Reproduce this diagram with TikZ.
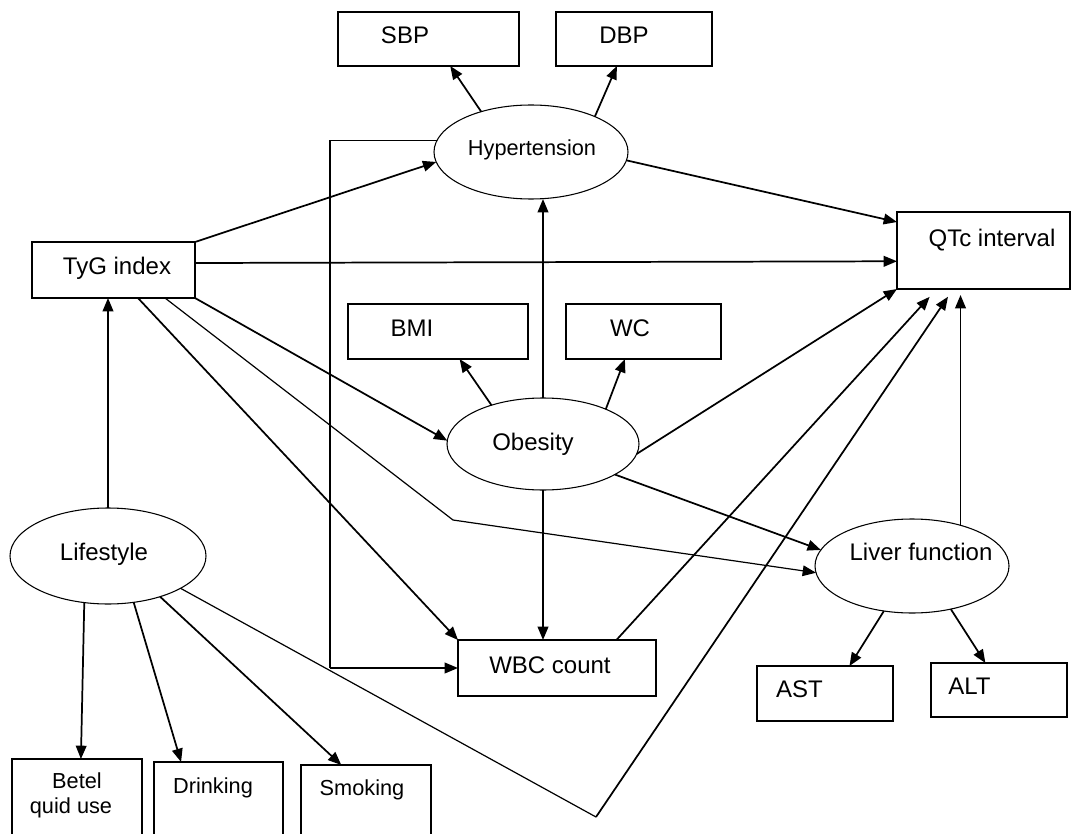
\documentclass[tikz,border=0pt]{standalone}
\usepackage{fontspec}
\setmainfont{Liberation Sans}
\usetikzlibrary{shapes.geometric,arrows.meta,calc}
\begin{document}
\begin{tikzpicture}[x=0.75pt,y=-0.75pt,
  bx/.style 2 args={draw,rectangle,line width=1pt,minimum width=#1*0.75pt,minimum height=#2*0.75pt,inner sep=0pt,outer sep=0pt},
  ell/.style 2 args={draw,ellipse,line width=0.8pt,minimum width=#1*0.75pt,minimum height=#2*0.75pt,inner sep=0pt,outer sep=0pt},
  txt/.style={inner sep=0pt,font=\fontsize{18}{21}\selectfont,text height=12.9pt,text depth=0pt},
  txts/.style={inner sep=0pt,font=\fontsize{16.3}{19.5}\selectfont,text height=11.7pt,text depth=0pt},
  arr/.style={line width=1.3pt,-{Triangle[length=10pt,width=8pt]}},
  thinln/.style={line width=0.9pt}]
\fill[white] (0,0) rectangle (1073,834);
\clip (0,0) rectangle (1073,834);
% boxes
\node[bx={181}{54}] (sbp) at (428.5,39) {};
\node[txt] at (405,35) {SBP};
\node[bx={156}{54}] (dbp) at (634,39) {};
\node[txt] at (624,35) {DBP};
\node[bx={163}{56}] (tyg) at (113.5,270) {};
\node[txt] at (117,266) {TyG index};
\node[bx={173}{77}] (qtc) at (983.5,250.5) {};
\node[txt] at (992,238) {QTc interval};
\node[bx={180}{55}] (bmi) at (438,331.5) {};
\node[txt] at (412,328) {BMI};
\node[bx={155}{55}] (wc) at (643.5,331.5) {};
\node[txt] at (630,328) {WC};
\node[bx={198}{56}] (wbc) at (557,668) {};
\node[txt] at (550,665) {WBC count};
\node[bx={136}{55}] (ast) at (825,693.5) {};
\node[txt] at (799.5,689) {AST};
\node[bx={136}{54}] (alt) at (999,690) {};
\node[txt] at (969.5,686) {ALT};
\node[bx={130}{111}] (bet) at (77,814.5) {};
\node[txts] at (77,781) {Betel};
\node[txts] at (71,806) {quid use};
\node[bx={129}{108}] (dri) at (218.5,816) {};
\node[txts] at (213,786) {Drinking};
\node[bx={130}{105}] (smo) at (366,817.5) {};
\node[txts] at (362,788) {Smoking};
% ellipses
\node[ell={194}{94}] (hyp) at (531,152) {};
\node[txts] at (532,147.5) {Hypertension};
\node[ell={192}{92}] (obe) at (543,444) {};
\node[txt] at (533,442) {Obesity};
\node[ell={196}{96}] (lif) at (108,556) {};
\node[txt] at (104,552) {Lifestyle};
\node[ell={194}{94}] (liv) at (912,566) {};
\node[txt] at (921,552) {Liver function};
% helper coordinates
\coordinate (bk) at (330,668);
\coordinate (bend) at (453,520);
\coordinate (vv) at (596,817);
% connectors
\draw[arr] (hyp.141) -- ($(sbp.south west)!0.62!(sbp.south east)$);
\draw[arr] (hyp.29) -- ($(dbp.south west)!0.39!(dbp.south east)$);
\draw[thinln] (hyp.173) -| (bk);
\draw[arr] (bk) -- (wbc.west);
\draw[arr] (tyg.north east) -- (hyp.186);
\draw[arr] ($(tyg.north east)!0.375!(tyg.south east)$) -- ($(qtc.north west)!0.64!(qtc.south west)$);
\draw[arr] (tyg.south east) -- (obe.178);
\draw[thinln,-{Triangle[length=10pt,width=8pt]}] ($(tyg.south west)!0.816!(tyg.south east)$) -- (bend) -- (liv.184);
\draw[arr] ($(tyg.south west)!0.65!(tyg.south east)$) -- (wbc.north west);
\draw[arr] (hyp.-5) -- ($(qtc.north west)!0.13!(qtc.south west)$);
\draw[arr] (obe.north) -- (obe.north |- hyp.south);
\draw[arr] (obe.143) -- ($(bmi.south west)!0.62!(bmi.south east)$);
\draw[arr] (obe.29) -- ($(wc.south west)!0.38!(wc.south east)$);
\draw[arr] (obe.-6) -- (qtc.south west);
\draw[arr] (obe.-23) -- (liv.170);
\draw[arr] (obe.south) -- (obe.south |- wbc.north);
\draw[arr,shorten >=4.5pt] (liv.40) -- (liv.40 |- qtc.south);
\draw[arr] (liv.-122) -- ($(ast.north west)!0.68!(ast.north east)$);
\draw[arr] (liv.-48) -- ($(alt.north west)!0.40!(alt.north east)$);
\draw[arr,shorten >=8pt] ($(wbc.north west)!0.8!(wbc.north east)$) -- ($(qtc.south west)!0.23!(qtc.south east)$);
\draw[arr] (lif.north) -- (lif.north |- tyg.south);
\draw[arr] (lif.-117) -- ($(bet.north west)!0.53!(bet.north east)$);
\draw[arr] (lif.-61) -- ($(dri.north west)!0.21!(dri.north east)$);
\draw[arr] (lif.-38) -- ($(smo.north west)!0.31!(smo.north east)$);
\draw[thinln] (lif.-24) -- (vv);
\draw[arr,shorten >=7pt] (vv) -- ($(qtc.south west)!0.325!(qtc.south east)$);
\end{tikzpicture}
\end{document}
